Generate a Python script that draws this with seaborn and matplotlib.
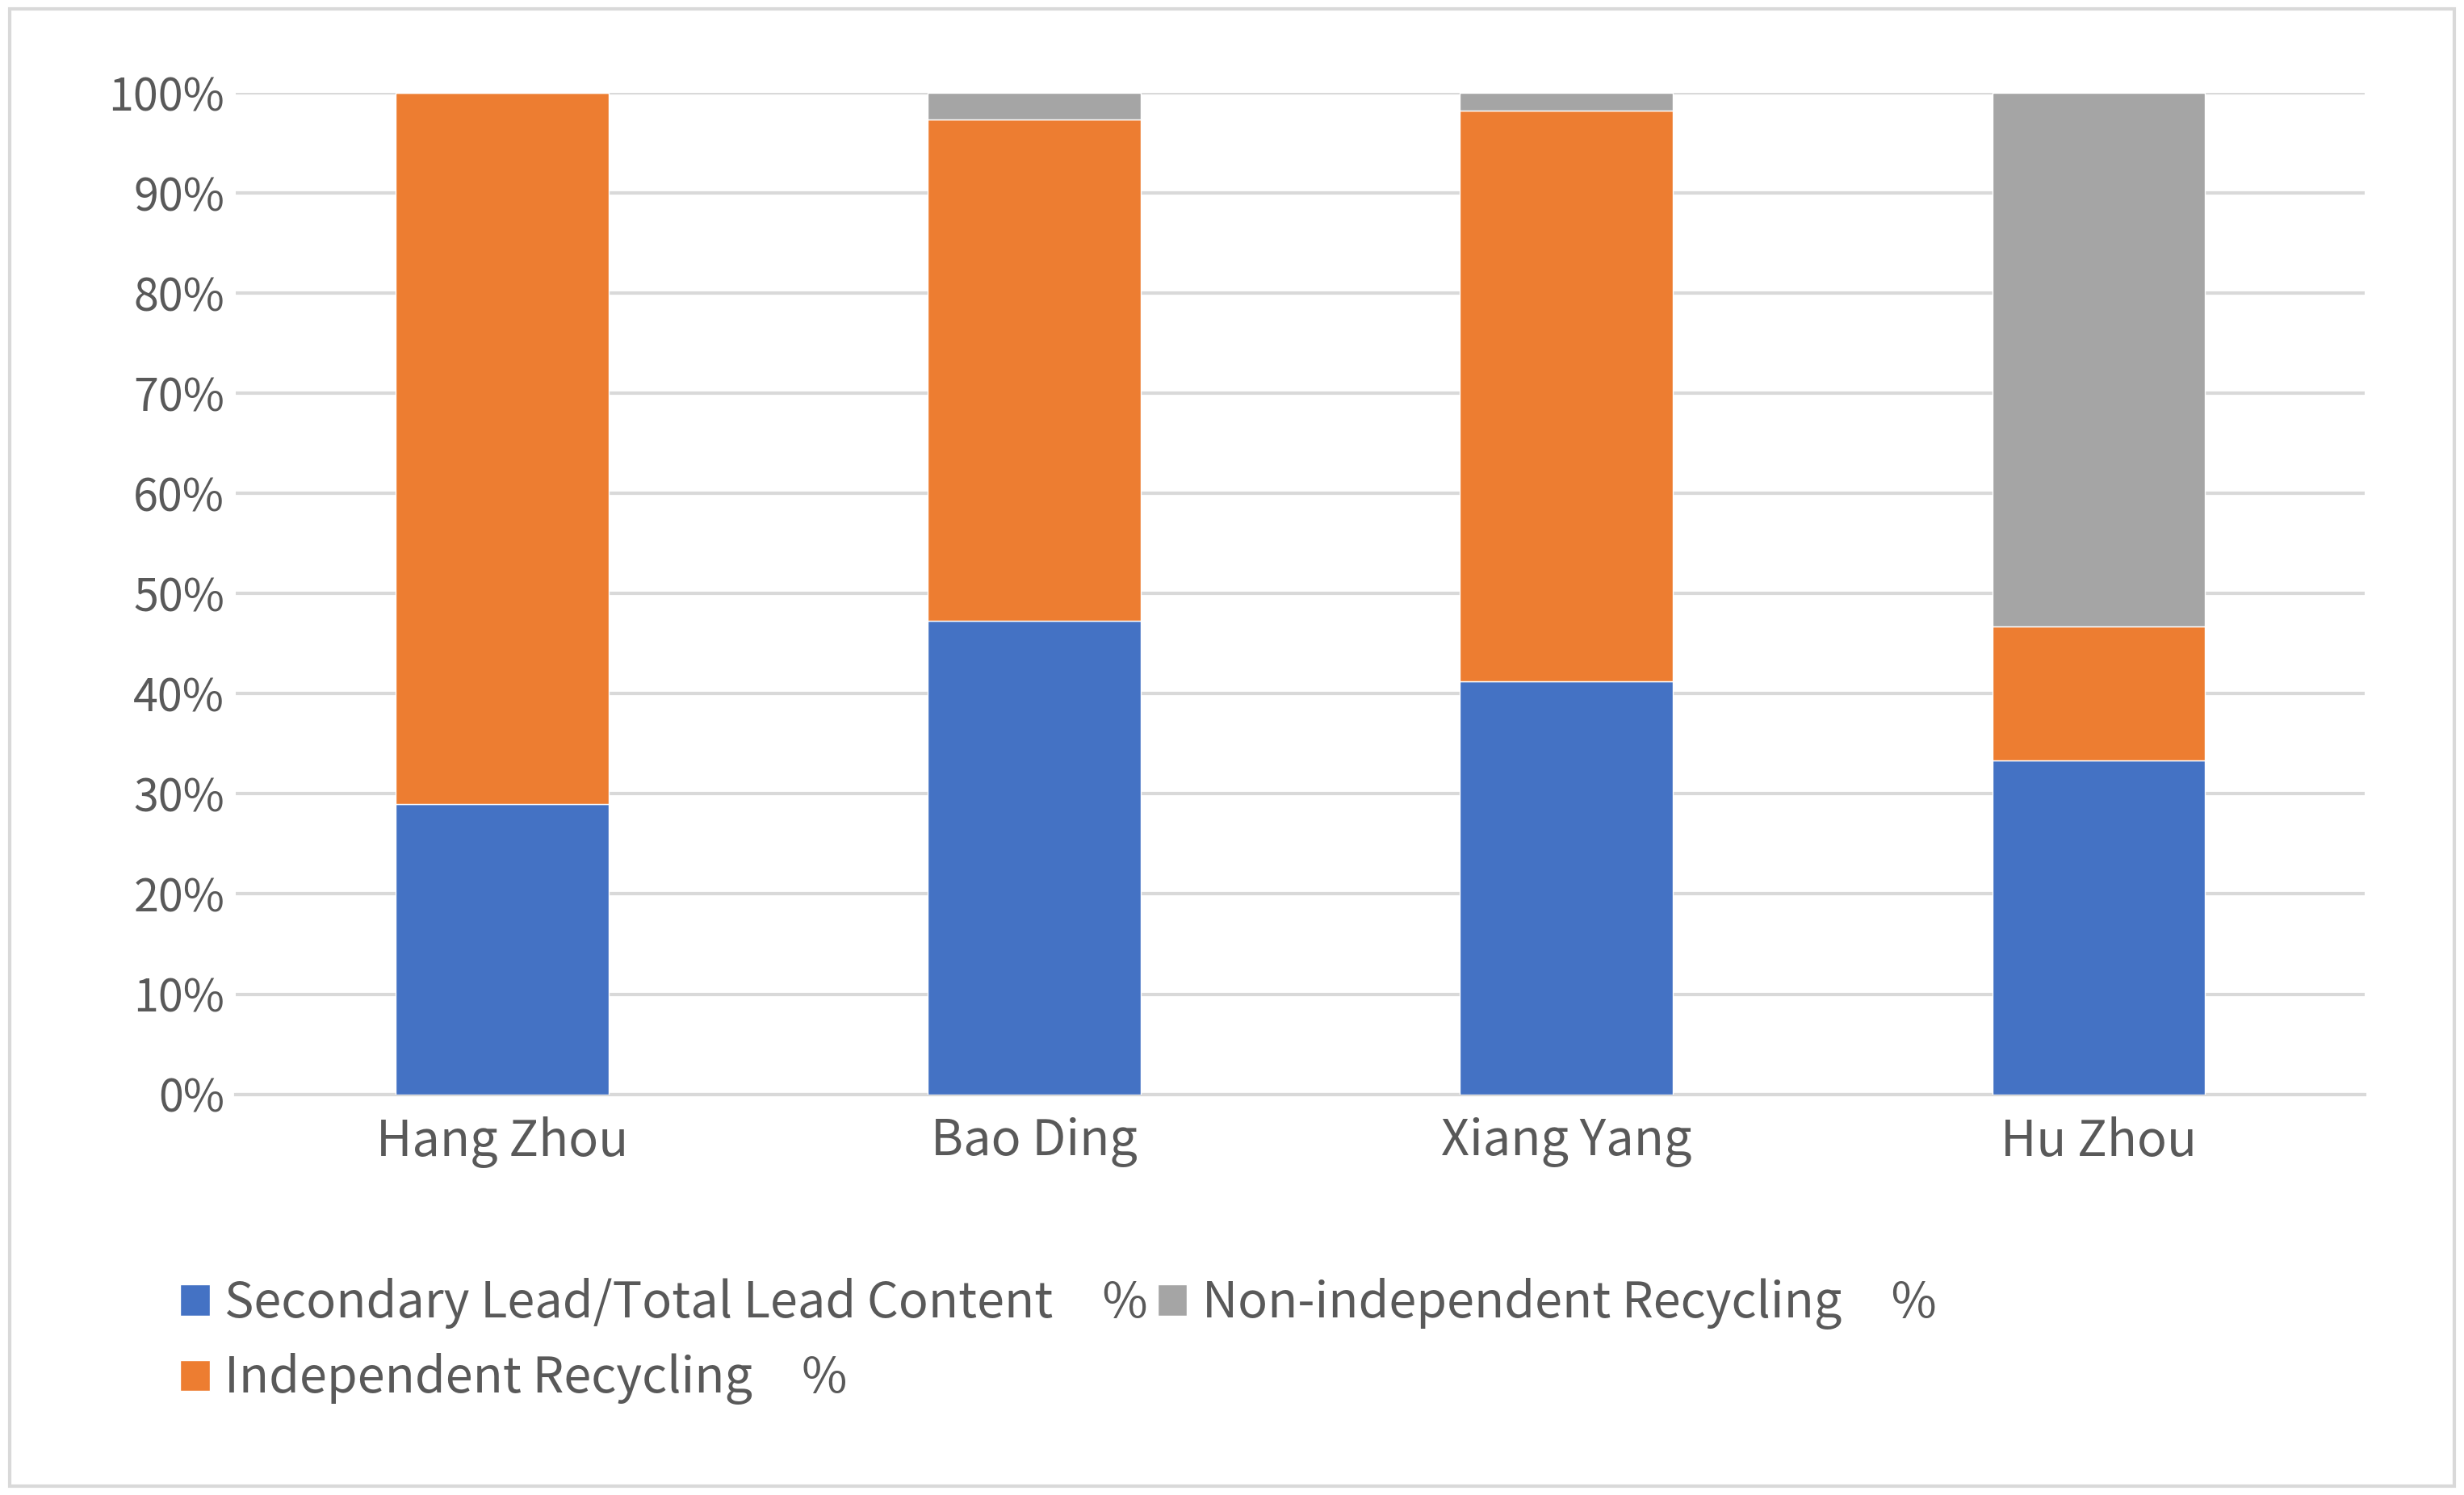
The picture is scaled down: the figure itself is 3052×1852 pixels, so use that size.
import matplotlib
matplotlib.use("Agg")
import matplotlib.pyplot as plt
import seaborn as sns
import numpy as np
from matplotlib.patches import Patch, Rectangle

cities = ["Hang Zhou", "Bao Ding", "Xiang Yang", "Hu Zhou"]
secondary = [29.0, 47.3, 41.2, 33.3]
independent = [71.0, 50.0, 57.0, 13.4]
nonindep = [0.0, 2.7, 1.8, 53.3]
labels = ["Secondary Lead/Total Lead Content　%", "Independent Recycling　%", "Non-independent Recycling　%"]
colors = ["#4472C4", "#ED7D31", "#A5A5A5"]

sns.set_style("white")
plt.rcParams['font.family'] = ['Noto Sans CJK SC', 'DejaVu Sans']
fig = plt.figure(figsize=(30.52, 18.52), dpi=100)
ax = fig.add_axes([0.0957, 0.268, 0.864, 0.670])
fig.patches.append(Rectangle((0.004, 0.006), 0.992, 0.988, transform=fig.transFigure,
                             fill=False, edgecolor="#D9D9D9", linewidth=3))

x = np.arange(len(cities))
bottom = np.zeros(4)
for vals, c in zip([secondary, independent, nonindep], colors):
    sns.barplot(x=cities, y=vals, bottom=bottom, color=c, width=0.4, ax=ax, saturation=1, zorder=3)
    bottom += np.array(vals)

ax.set_ylim(0, 100)
ax.set_xlim(-0.5, 3.5)
ax.set_yticks(range(0, 101, 10))
ax.set_yticklabels([f"{v}%" for v in range(0, 101, 10)], fontsize=40, color="#595959")
ax.tick_params(axis='x', labelsize=44, labelcolor="#595959", pad=20, length=0)
ax.tick_params(axis='y', length=0, pad=10)
ax.yaxis.grid(True, color="#D9D9D9", linewidth=3, zorder=0)
for s in ["top", "right", "left"]:
    ax.spines[s].set_visible(False)
ax.spines["bottom"].set_color("#D9D9D9")
ax.spines["bottom"].set_linewidth(3)

handles = [Patch(facecolor=c) for c in colors]
fig.legend(handles, labels, ncol=2, loc="upper left", bbox_to_anchor=(0.055, 0.175),
           frameon=False, fontsize=44, handlelength=0.6, handleheight=0.6,
           handletextpad=0.3, columnspacing=0.2, labelcolor="#595959")
fig.savefig("out.png", dpi=100)
